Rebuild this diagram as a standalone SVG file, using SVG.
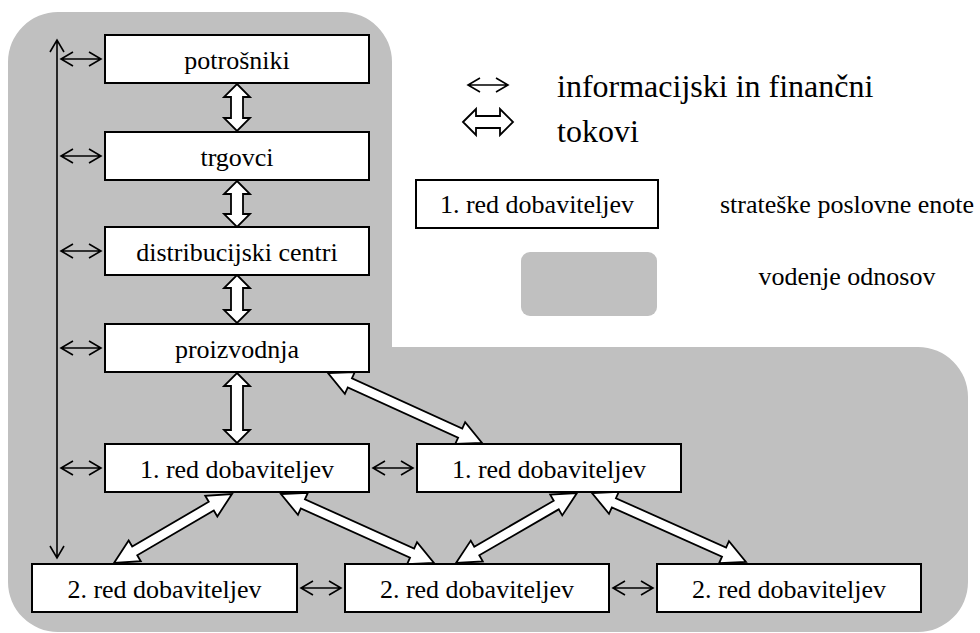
<svg xmlns="http://www.w3.org/2000/svg" width="980" height="633" viewBox="0 0 980 633" font-family="Times New Roman, Liberation Serif, serif">
<style>
.box{fill:#fff;stroke:#000;stroke-width:2}
.thin{stroke:#000;stroke-width:1.6;fill:none}
.fat{fill:#fff;stroke:#000;stroke-width:1.8}
text{font-family:"Times New Roman","Liberation Serif",serif}
</style>

<path id="relations-bg" fill="#c0c0c0" d="M58,12 H342 A50,50 0 0 1 392,62 V347 H918 A50,50 0 0 1 968,397 V582 A50,50 0 0 1 918,632 H58 A50,50 0 0 1 8,582 V62 A50,50 0 0 1 58,12 Z"/>

<g id="connectors">
  <path class="thin" d="M57,40 V558 M50,52 L57,40 L64,52 M50,546 L57,558 L64,546"/>
  <path class="thin" d="M61,59 H101 M73,52 L61,59 L73,66 M89,52 L101,59 L89,66"/>
  <path class="thin" d="M61,156 H101 M73,149 L61,156 L73,163 M89,149 L101,156 L89,163"/>
  <path class="thin" d="M61,251 H101 M73,244 L61,251 L73,258 M89,244 L101,251 L89,258"/>
  <path class="thin" d="M61,348 H101 M73,341 L61,348 L73,355 M89,341 L101,348 L89,355"/>
  <path class="thin" d="M61,468 H101 M73,461 L61,468 L73,475 M89,461 L101,468 L89,475"/>
  <path class="thin" d="M373,468 H413 M385,461 L373,468 L385,475 M401,461 L413,468 L401,475"/>
  <path class="thin" d="M301,588 H341 M313,581 L301,588 L313,595 M329,581 L341,588 L329,595"/>
  <path class="thin" d="M613,588 H653 M625,581 L613,588 L625,595 M641,581 L653,588 L641,595"/>

  <path class="fat" transform="translate(237,84) rotate(90)" d="M0,0 L13,-13 L13,-6 L34,-6 L34,-13 L47,0 L34,13 L34,6 L13,6 L13,13 Z"/>
  <path class="fat" transform="translate(237,181) rotate(90)" d="M0,0 L13,-13 L13,-6 L33,-6 L33,-13 L46,0 L33,13 L33,6 L13,6 L13,13 Z"/>
  <path class="fat" transform="translate(237,275) rotate(90)" d="M0,0 L13,-13 L13,-6 L35,-6 L35,-13 L48,0 L35,13 L35,6 L13,6 L13,13 Z"/>
  <path class="fat" transform="translate(237,373) rotate(90)" d="M0,0 L13,-13 L13,-6 L57,-6 L57,-13 L70,0 L57,13 L57,6 L13,6 L13,13 Z"/>

  <path class="fat" transform="translate(328,373) rotate(24.44)" d="M0,0 L24,-12 L24,-5 L145.2,-5 L145.2,-12 L169.2,0 L145.2,12 L145.2,5 L24,5 L24,12 Z"/>
  <path class="fat" transform="translate(232,494) rotate(149.68)" d="M0,0 L24,-12 L24,-5 L112.7,-5 L112.7,-12 L136.7,0 L112.7,12 L112.7,5 L24,5 L24,12 Z"/>
  <path class="fat" transform="translate(281,494) rotate(24.27)" d="M0,0 L24,-12 L24,-5 L143.8,-5 L143.8,-12 L167.8,0 L143.8,12 L143.8,5 L24,5 L24,12 Z"/>
  <path class="fat" transform="translate(577,493) rotate(149.95)" d="M0,0 L24,-12 L24,-5 L115.8,-5 L115.8,-12 L139.8,0 L115.8,12 L115.8,5 L24,5 L24,12 Z"/>
  <path class="fat" transform="translate(592,493) rotate(24.13)" d="M0,0 L24,-12 L24,-5 L144.7,-5 L144.7,-12 L168.7,0 L144.7,12 L144.7,5 L24,5 L24,12 Z"/>
</g>

<g id="potrosniki"><rect class="box" x="105" y="35" width="264" height="48"/><text font-family="Times New Roman, Liberation Serif, serif" font-size="26" text-anchor="middle" x="237" y="69">potrošniki</text></g>
<g id="trgovci"><rect class="box" x="105" y="132" width="264" height="48"/><text font-family="Times New Roman, Liberation Serif, serif" font-size="26" text-anchor="middle" x="237" y="166">trgovci</text></g>
<g id="distribucijski"><rect class="box" x="105" y="227" width="264" height="48"/><text font-family="Times New Roman, Liberation Serif, serif" font-size="26" text-anchor="middle" x="237" y="261">distribucijski centri</text></g>
<g id="proizvodnja"><rect class="box" x="105" y="324" width="264" height="48"/><text font-family="Times New Roman, Liberation Serif, serif" font-size="26" text-anchor="middle" x="237" y="358">proizvodnja</text></g>
<g id="red1-left"><rect class="box" x="105" y="444" width="264" height="48"/><text font-family="Times New Roman, Liberation Serif, serif" font-size="26" text-anchor="middle" x="237" y="478">1. red dobaviteljev</text></g>
<g id="red1-right"><rect class="box" x="417" y="444" width="264" height="48"/><text font-family="Times New Roman, Liberation Serif, serif" font-size="26" text-anchor="middle" x="549" y="478">1. red dobaviteljev</text></g>
<g id="red2-left"><rect class="box" x="32" y="564" width="265" height="48"/><text font-family="Times New Roman, Liberation Serif, serif" font-size="26" text-anchor="middle" x="164.5" y="598">2. red dobaviteljev</text></g>
<g id="red2-mid"><rect class="box" x="345" y="564" width="264" height="48"/><text font-family="Times New Roman, Liberation Serif, serif" font-size="26" text-anchor="middle" x="477" y="598">2. red dobaviteljev</text></g>
<g id="red2-right"><rect class="box" x="657" y="564" width="264" height="48"/><text font-family="Times New Roman, Liberation Serif, serif" font-size="26" text-anchor="middle" x="789" y="598">2. red dobaviteljev</text></g>

<g id="legend">
  <path class="thin" d="M468,85 H508 M480,78 L468,85 L480,92 M496,78 L508,85 L496,92"/>
  <path class="fat" transform="translate(463,122)" d="M0,0 L13,-13 L13,-6 L37,-6 L37,-13 L50,0 L37,13 L37,6 L13,6 L13,13 Z"/>
  <text font-family="Times New Roman, Liberation Serif, serif" font-size="32" x="557" y="97">informacijski in finančni</text>
  <text font-family="Times New Roman, Liberation Serif, serif" font-size="32" x="557" y="142">tokovi</text>
  <rect class="box" x="416" y="180" width="242" height="48"/>
  <text font-family="Times New Roman, Liberation Serif, serif" font-size="26" text-anchor="middle" x="537" y="213">1. red dobaviteljev</text>
  <text font-family="Times New Roman, Liberation Serif, serif" font-size="26" text-anchor="middle" x="847" y="213">strateške poslovne enote</text>
  <rect fill="#c0c0c0" x="521" y="252" width="136" height="64" rx="9" ry="9"/>
  <text font-family="Times New Roman, Liberation Serif, serif" font-size="26" text-anchor="middle" x="847" y="285">vodenje odnosov</text>
</g>
</svg>
